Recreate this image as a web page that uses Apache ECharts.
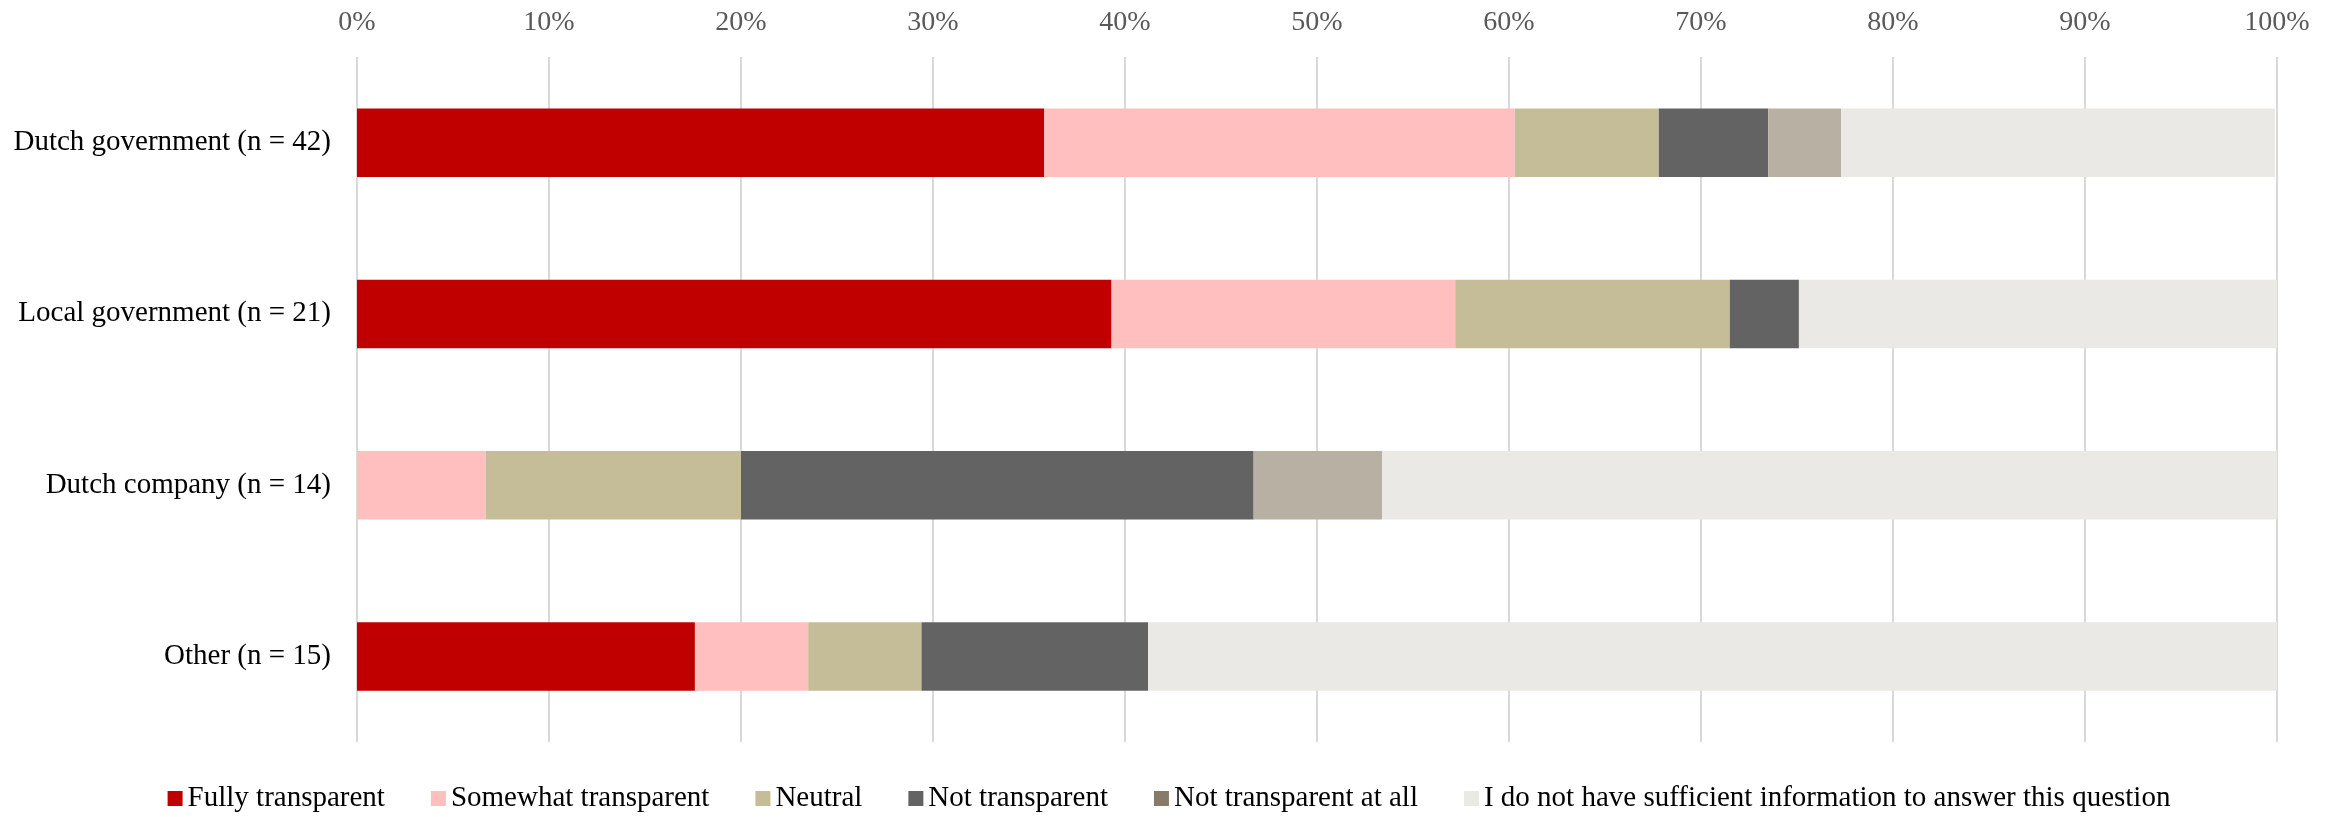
<!DOCTYPE html>
<html>
<head>
<meta charset="utf-8">
<script src="https://cdn.jsdelivr.net/npm/echarts@6/dist/echarts.min.js"></script>
<style>
  html, body { margin: 0; padding: 0; background: #ffffff; }
  #chart { width: 2338px; height: 817px; }
</style>
</head>
<body>
<div id="chart"></div>
<script>
// categories (top to bottom)
const categories = ['Dutch government (n = 42)', 'Local government (n = 21)', 'Dutch company (n = 14)', 'Other (n = 15)'];

// share of answers per category, in %
const fullyTransparent = [35.8, 39.3, 0, 17.6];
const somewhatTransparent = [24.5, 17.9, 6.7, 5.9];
const neutral = [7.5, 14.3, 13.3, 5.9];
const notTransparent = [5.7, 3.6, 26.7, 11.8];
const notTransparentAtAll = [3.8, 0, 6.7, 0];
const noInformation = [22.6, 25.0, 46.7, 58.8];

const seriesNames = ['Fully transparent', 'Somewhat transparent', 'Neutral', 'Not transparent', 'Not transparent at all', 'I do not have sufficient information to answer this question'];
const seriesValues = [fullyTransparent, somewhatTransparent, neutral, notTransparent, notTransparentAtAll, noInformation];
const barColors = ['#C00000', '#FFBFBF', '#C4BD97', '#636363', '#B8B0A3', '#EAE9E5'];
const legendColors = ['#C00000', '#FFBFBF', '#C4BD97', '#636363', '#877A68', '#EAE9E5'];

const font = '"Liberation Serif", "DejaVu Serif", serif';

const chart = echarts.init(document.getElementById('chart'), null, { renderer: 'canvas' });

const option = {
  backgroundColor: '#ffffff',
  animation: false,
  grid: {
    left: 357,
    right: 61,
    top: 57,
    bottom: 75,
  },
  legend: {
    top: 779,
    left: 'center',
    itemWidth: 15,
    itemHeight: 15,
    itemGap: 46,
    icon: 'rect',
    textStyle: {
      fontFamily: font,
      fontSize: 29,
      color: '#000000',
      padding: [0, 0, 0, 0],
    },
    data: seriesNames.map((name, i) => ({
      name: name,
      itemStyle: { color: legendColors[i] },
    })),
  },
  xAxis: {
    type: 'value',
    position: 'top',
    min: 0,
    max: 100,
    interval: 10,
    axisLine: { show: false },
    axisTick: { show: false },
    axisLabel: {
      formatter: '{value}%',
      color: '#595959',
      fontFamily: font,
      fontSize: 28,
      margin: 20,
    },
    splitLine: {
      lineStyle: { color: '#D9D9D9', width: 2 },
    },
  },
  yAxis: {
    type: 'category',
    inverse: true,
    data: categories,
    axisLine: { show: false },
    axisTick: { show: false },
    axisLabel: {
      color: '#000000',
      fontFamily: font,
      fontSize: 29,
      margin: 26,
    },
  },
  series: seriesNames.map((name, i) => ({
    name: name,
    type: 'bar',
    stack: 'total',
    barWidth: '40%',
    data: seriesValues[i],
    itemStyle: { color: barColors[i] },
  })),
};

chart.setOption(option);
</script>
</body>
</html>
